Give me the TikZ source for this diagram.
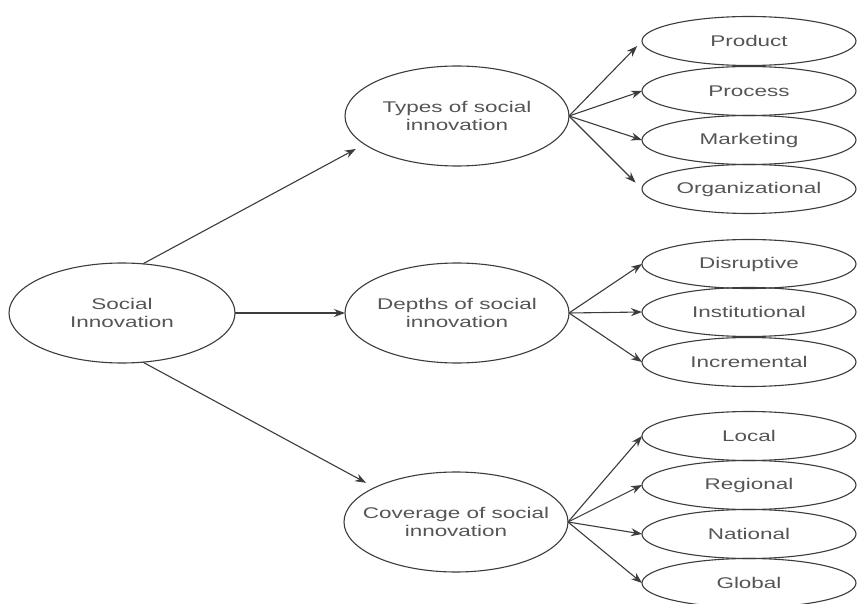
\documentclass[tikz,border=0pt]{standalone}
\usepackage{fontspec}
\setmainfont{Liberation Sans}[FakeStretch=1.45]
\usetikzlibrary{shapes.geometric,arrows.meta,calc}
\definecolor{txt}{HTML}{555555}
\definecolor{ln}{HTML}{3C3C3C}
\begin{document}
\begin{tikzpicture}[x=1pt,y=-1pt,
  base/.style={ellipse,draw=ln,line width=1.1pt,inner ysep=0pt,inner xsep=-40pt,outer sep=0pt,
    text=txt,align=center,font=\fontsize{15.5}{17.5}\selectfont},
  big/.style={base,minimum width=224pt,minimum height=100pt},
  leaf/.style={base,minimum width=214pt,minimum height=49pt},
  conn/.style={draw=ln,line width=1.1pt,-{Stealth[length=11pt,width=8pt]}}]
\useasboundingbox (0,0) rectangle (857,604);
\fill[white] (0,0) rectangle (857,604);
% main nodes
\node[big,minimum width=226pt] (si) at (122,313) {Social\\Innovation};
\node[big] (types) at (457,116) {Types of social\\innovation};
\node[big] (depths) at (457,313) {Depths of social\\innovation};
\node[big] (coverage) at (456,522) {Coverage of social\\innovation};
% leaves
\node[leaf] (product) at (749,41) {Product};
\node[leaf] (process) at (749,91) {Process};
\node[leaf] (marketing) at (749,140) {Marketing};
\node[leaf] (organizational) at (749,189) {Organizational};
\node[leaf] (disruptive) at (749,264) {Disruptive};
\node[leaf] (institutional) at (749,312) {Institutional};
\node[leaf] (incremental) at (749,362) {Incremental};
\node[leaf] (local) at (749,436) {Local};
\node[leaf] (regional) at (749,485) {Regional};
\node[leaf] (national) at (749,534) {National};
\node[leaf] (global) at (749,583) {Global};
% connectors
\draw[conn,shorten >=10pt] (si.67) -- (types.197);
\draw[conn] (si.east) -- (depths.west);
\draw[conn,shorten >=10pt] (si.-67) -- (coverage.157);
\draw[conn,shorten >=7pt] (types.east) -- (product.west);
\draw[conn] (types.east) -- (process.west);
\draw[conn] (types.east) -- (marketing.west);
\draw[conn,shorten >=9pt] (types.east) -- (organizational.west);
\draw[conn] (depths.east) -- (disruptive.west);
\draw[conn] (depths.east) -- (institutional.west);
\draw[conn] (depths.east) -- (incremental.west);
\draw[conn] (coverage.east) -- (local.west);
\draw[conn] (coverage.east) -- (regional.west);
\draw[conn] (coverage.east) -- (national.west);
\draw[conn] (coverage.east) -- (global.west);
\end{tikzpicture}
\end{document}
